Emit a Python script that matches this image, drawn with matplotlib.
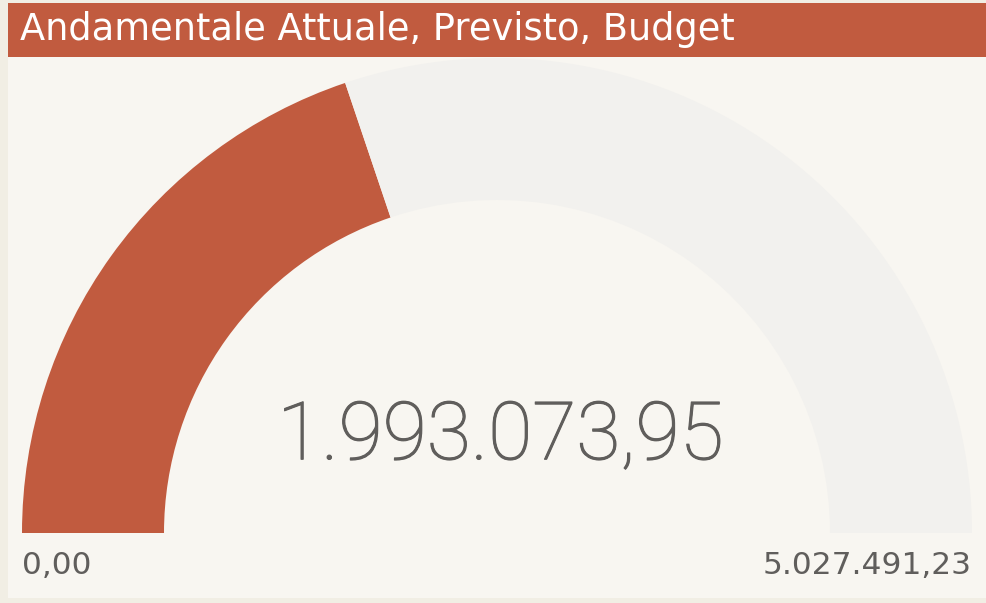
import matplotlib

matplotlib.use("Agg")

import matplotlib.patheffects as pe
import matplotlib.pyplot as plt
from matplotlib.patches import Rectangle, Wedge

# gauge data
gauge_min = 0.0
gauge_max = 5027491.23
gauge_value = 1993073.95
title = "Andamentale Attuale, Previsto, Budget"

RED = "#C15B3F"
TRACK = "#F2F1EE"
BG = "#F8F6F1"
TEXT = "#605E5C"


def fmt_it(v: float) -> str:
    s = f"{v:,.2f}"
    return s.replace(",", "X").replace(".", ",").replace("X", ".")


fig = plt.figure(figsize=(9.86, 6.03), dpi=100, facecolor="#F1EEE4")
ax = fig.add_axes([0, 0, 1, 1])
ax.set_xlim(0, 986)
ax.set_ylim(603, 0)
ax.axis("off")

# panel and title bar
ax.add_patch(Rectangle((8, 3), 978, 595, facecolor=BG, edgecolor="none"))
ax.add_patch(Rectangle((8, 3), 978, 54, facecolor=RED, edgecolor="none"))
ax.text(20, 29, title, color="white", fontsize=26.5, va="center", ha="left",
        family="DejaVu Sans")

# gauge geometry (pixels)
cx, cy = 497, 533
r_out, r_in = 475, 333
frac = (gauge_value - gauge_min) / (gauge_max - gauge_min)
split = 180 - frac * 180

# y axis is inverted, so angles are measured clockwise on screen
ax.add_patch(Wedge((cx, cy), r_out, 180, 180 + (180 - split), width=r_out - r_in,
                   facecolor=RED, edgecolor="none"))
ax.add_patch(Wedge((cx, cy), r_out, 180 + (180 - split), 360, width=r_out - r_in,
                   facecolor=TRACK, edgecolor="none"))

ax.text(cx + 3, 437, fmt_it(gauge_value), color=TEXT, fontsize=58, ha="center",
        va="center", family="Roboto", fontweight="light",
        path_effects=[pe.withStroke(linewidth=0.8, foreground=TEXT)])
ax.text(22, 566, fmt_it(gauge_min), color=TEXT, fontsize=22.5, ha="left",
        va="center", family="DejaVu Sans")
ax.text(972, 566, fmt_it(gauge_max), color=TEXT, fontsize=22.5, ha="right",
        va="center", family="DejaVu Sans")

fig.savefig("out.png", dpi=100, facecolor=fig.get_facecolor())
